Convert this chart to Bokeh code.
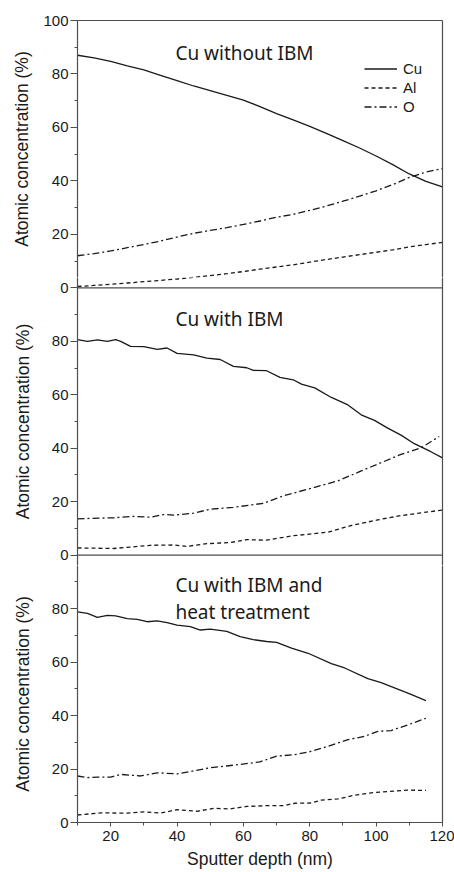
from bokeh.plotting import figure
from bokeh.layouts import column
from bokeh.models import Range1d, FixedTicker, Span, Legend, LegendItem, LinearAxis
from bokeh.core.properties import value
from bokeh.embed import file_html
from bokeh.resources import INLINE

# ---------------- data ----------------
series_names = ["Cu", "Al", "O"]
panel_titles = [["Cu without IBM"], ["Cu with IBM"], ["Cu with IBM and", "heat treatment"]]

# Panel 1: Cu without IBM
d1 = [10, 15, 20, 25, 30, 35, 40, 45, 50, 55, 60, 65, 70, 75, 80, 85, 90, 95, 100, 105, 110, 115, 120]
cu1 = [87, 86, 84.7, 83, 81.5, 79.5, 77.5, 75.5, 73.8, 72, 70.2, 67.8, 65.2, 62.8, 60.4, 57.8, 55.1, 52.3, 49.3, 46.1, 42.6, 39.8, 37.8]
al1 = [0.5, 0.9, 1.3, 1.8, 2.3, 2.8, 3.3, 3.9, 4.6, 5.3, 6.1, 7.0, 7.8, 8.6, 9.6, 10.6, 11.5, 12.4, 13.3, 14.2, 15.3, 16.2, 17.0]
o1 = [12, 12.8, 13.8, 15, 16.2, 17.5, 19, 20.4, 21.5, 22.5, 23.7, 25, 26.4, 27.5, 29, 30.6, 32.4, 34.3, 36.3, 38.6, 41.3, 43.3, 44.6]

# Panel 2: Cu with IBM
d2_cu = [10, 13, 16, 19, 21.5, 23, 26, 30, 34, 37, 40, 45, 49, 53, 57, 61, 63, 67, 71, 75, 77.5, 81.5, 86.5, 91.5, 95.5, 99.5, 103.5, 107.5, 111.5, 116.5, 120]
cu2 = [80.6, 80.0, 80.5, 80.0, 80.6, 80.0, 78.1, 78.0, 77.0, 77.5, 75.5, 74.9, 73.7, 73.2, 70.6, 70.1, 69.1, 69.0, 66.5, 65.6, 64.0, 62.6, 59.0, 56.2, 52.5, 50.4, 47.5, 44.9, 41.7, 38.7, 36.4]
d2_al = [10, 21, 32, 39, 43, 49, 56, 61, 67, 74.5, 85.5, 92.5, 100.5, 107.5, 120]
al2 = [2.7, 2.5, 3.7, 3.8, 3.3, 4.3, 4.7, 5.8, 5.6, 7.2, 8.6, 11.1, 13.2, 14.8, 16.9]
d2_o = [10, 21, 27, 32, 36, 39, 45, 50, 57, 66, 72, 79.5, 88.5, 95.5, 101.5, 107.5, 113.5, 119]
o2 = [13.6, 14.0, 14.5, 14.2, 15.2, 15.0, 15.7, 17.2, 17.9, 19.4, 22.2, 24.7, 27.8, 31.5, 34.6, 37.7, 40.1, 44.4]

# Panel 3: Cu with IBM and heat treatment
d3_cu = [10, 13, 16, 19, 21.5, 25, 28, 31, 34, 37, 40, 44, 47, 50, 55, 59, 63, 67, 70, 74.5, 79.5, 86.5, 90.5, 97.5, 101.5, 106.5, 110.5, 115]
cu3 = [78.8, 78.2, 76.7, 77.5, 77.3, 76.3, 76.0, 75.1, 75.4, 74.8, 73.8, 73.3, 72.0, 72.3, 71.5, 69.5, 68.4, 67.7, 67.4, 65.2, 63.3, 59.4, 57.8, 53.8, 52.3, 49.9, 47.9, 45.6]
d3_al = [10, 17, 25, 30, 35, 40, 46, 51, 56, 61, 67, 72, 75.5, 80.5, 83.5, 88.5, 93.5, 98.5, 103.5, 109.5, 115]
al3 = [2.8, 3.6, 3.5, 4.0, 3.5, 4.8, 4.2, 5.3, 5.1, 6.0, 6.3, 6.3, 7.2, 7.3, 8.4, 8.8, 10.2, 11.1, 11.6, 12.1, 12.0]
d3_o = [10, 13, 16, 20, 23, 29, 34, 40, 45, 50, 59, 65, 70, 75.5, 79.5, 85.5, 91.5, 96.5, 100.5, 104.5, 109.5, 115]
o3 = [17.4, 16.8, 17.0, 17.0, 18.0, 17.4, 18.6, 18.2, 19.3, 20.5, 21.7, 22.7, 24.8, 25.4, 26.3, 28.5, 31.0, 32.2, 34.1, 34.4, 36.5, 39.0]

x_ticks = [20, 40, 60, 80, 100, 120]
x_minor = [10, 30, 50, 70, 90, 110]
y_ticks = [0, 20, 40, 60, 80, 100]
y_minor = [10, 30, 50, 70, 90]
y_label = "Atomic concentration (%)"
x_label = "Sputter depth (nm)"

# ---------------- layout constants ----------------
INK = "#1a1a1a"
AX = "#4d4d4d"
FONT = "Liberation Sans"
W = 454
LEFT, RIGHT, TOP, BOTTOM = 77, 12, 20, 50
FRAMES = [257, 288, 257]          # frame heights (px) of the three stacked figures
SCALE = sum(FRAMES) / 300.0        # px per % (each panel spans 0..100)
ext = (FRAMES[1] / SCALE - 100) / 2  # middle figure reaches a little into its neighbours

LW = 1.3
DASH = "4 3"
DASHDOT = "7 3 2 3"


def make_fig(height, y_rng, top, bottom, with_x_axis):
    f = figure(width=W, height=height, x_range=Range1d(10, 120), y_range=y_rng,
               x_axis_location="below" if with_x_axis else None,
               output_backend="svg", toolbar_location=None,
               min_border_left=LEFT, min_border_right=RIGHT,
               min_border_top=top, min_border_bottom=bottom)
    f.grid.visible = False
    f.outline_line_color = None
    f.background_fill_color = "white"
    f.border_fill_color = "white"
    ax = f.yaxis[0]
    ax.ticker = FixedTicker(ticks=y_ticks, minor_ticks=y_minor)
    ax.axis_line_color = AX
    ax.axis_line_width = 1.2
    ax.major_tick_line_color = AX
    ax.minor_tick_line_color = AX
    ax.major_tick_out = 7
    ax.major_tick_in = 0
    ax.minor_tick_out = 3
    ax.minor_tick_in = 0
    ax.major_label_text_font = FONT
    ax.major_label_text_font_size = "15px"
    ax.major_label_text_color = INK
    ax.major_label_standoff = 2
    ax.axis_label = y_label
    ax.axis_label_text_font = FONT
    ax.axis_label_text_font_size = "17.5px"
    ax.axis_label_text_font_style = "normal"
    ax.axis_label_text_color = INK
    # right frame edge as a bare axis rule
    r = LinearAxis(ticker=FixedTicker(ticks=[], minor_ticks=[]), axis_line_color=AX,
                   axis_line_width=1.2, major_label_text_font_size="0px")
    f.add_layout(r, "right")
    return f


title_kw = dict(text_font=value("Noto Sans"), text_font_size="19px", text_color=INK,
                text_align="left", text_baseline="middle")

# ---- panel 1 ----
p1 = make_fig(TOP + FRAMES[0], Range1d(100 - FRAMES[0] / SCALE, 100), TOP, 0, False)
p1.yaxis[0].axis_label_standoff = 8
top_rule = LinearAxis(ticker=FixedTicker(ticks=[], minor_ticks=[]),
                      axis_line_color=AX, axis_line_width=1.2, major_label_text_font_size="0px")
p1.add_layout(top_rule, "above")
r_cu1 = p1.line(d1, cu1, line_color=INK, line_width=LW)
r_al1 = p1.line(d1, al1, line_color=INK, line_width=LW, line_dash=DASH)
r_o1 = p1.line(d1, o1, line_color=INK, line_width=LW, line_dash=DASHDOT)
p1.text(x=[39.5], y=[88.0], text=panel_titles[0][:1], **title_kw)
legend = Legend(items=[LegendItem(label=series_names[0], renderers=[r_cu1]),
                       LegendItem(label=series_names[1], renderers=[r_al1]),
                       LegendItem(label=series_names[2], renderers=[r_o1])],
                location=(287, FRAMES[0] + TOP - 116), orientation="vertical",
                glyph_width=33, glyph_height=19, label_height=19, label_standoff=6,
                spacing=0, padding=0, margin=0,
                label_text_font=FONT, label_text_font_size="15px",
                label_text_color=INK, border_line_alpha=0, background_fill_alpha=0)
p1.add_layout(legend)

# ---- panel 2 (its frame also holds the two panel boundaries) ----
p2 = make_fig(FRAMES[1], Range1d(-ext, 100 + ext), 0, 0, False)
p2.yaxis[0].major_label_overrides = {100: "0"}   # bottom of panel 1
p2.yaxis[0].axis_label_standoff = 16
p2.extra_y_ranges = {"p1": Range1d(-100 - ext, ext)}
p2.line(d1, al1, y_range_name="p1", line_color=INK, line_width=LW, line_dash=DASH)
for loc in (0, 100):
    p2.add_layout(Span(location=loc, dimension="width", line_color=AX, line_width=1.2))
p2.line(d2_cu, cu2, line_color=INK, line_width=LW)
p2.line(d2_al, al2, line_color=INK, line_width=LW, line_dash=DASH)
p2.line(d2_o, o2, line_color=INK, line_width=LW, line_dash=DASHDOT)
p2.text(x=[39.5], y=[88.3], text=panel_titles[1][:1], **title_kw)

# ---- panel 3 ----
p3 = make_fig(FRAMES[2] + BOTTOM, Range1d(0, FRAMES[2] / SCALE), 0, BOTTOM, True)
p3.yaxis[0].axis_label_standoff = 16
p3.line(d3_cu, cu3, line_color=INK, line_width=LW)
p3.line(d3_al, al3, line_color=INK, line_width=LW, line_dash=DASH)
p3.line(d3_o, o3, line_color=INK, line_width=LW, line_dash=DASHDOT)
p3.text(x=[39.5], y=[88.8], text=panel_titles[2][:1], **title_kw)
p3.text(x=[39.5], y=[78.9], text=panel_titles[2][1:], **title_kw)

xax = p3.xaxis[0]
xax.ticker = FixedTicker(ticks=x_ticks, minor_ticks=x_minor)
xax.axis_line_color = AX
xax.axis_line_width = 1.2
xax.major_tick_line_color = AX
xax.minor_tick_line_color = AX
xax.major_tick_out = 4
xax.major_tick_in = 0
xax.minor_tick_out = 3
xax.minor_tick_in = 0
xax.major_label_text_font = FONT
xax.major_label_text_font_size = "15px"
xax.major_label_text_color = INK
xax.major_label_standoff = 4
xax.axis_label = x_label
xax.axis_label_text_font = FONT
xax.axis_label_text_font_size = "17.5px"
xax.axis_label_text_font_style = "normal"
xax.axis_label_text_color = INK
xax.axis_label_standoff = 5

layout = column(p1, p2, p3, spacing=0)
open("out.html", "w").write(file_html(layout, INLINE))
